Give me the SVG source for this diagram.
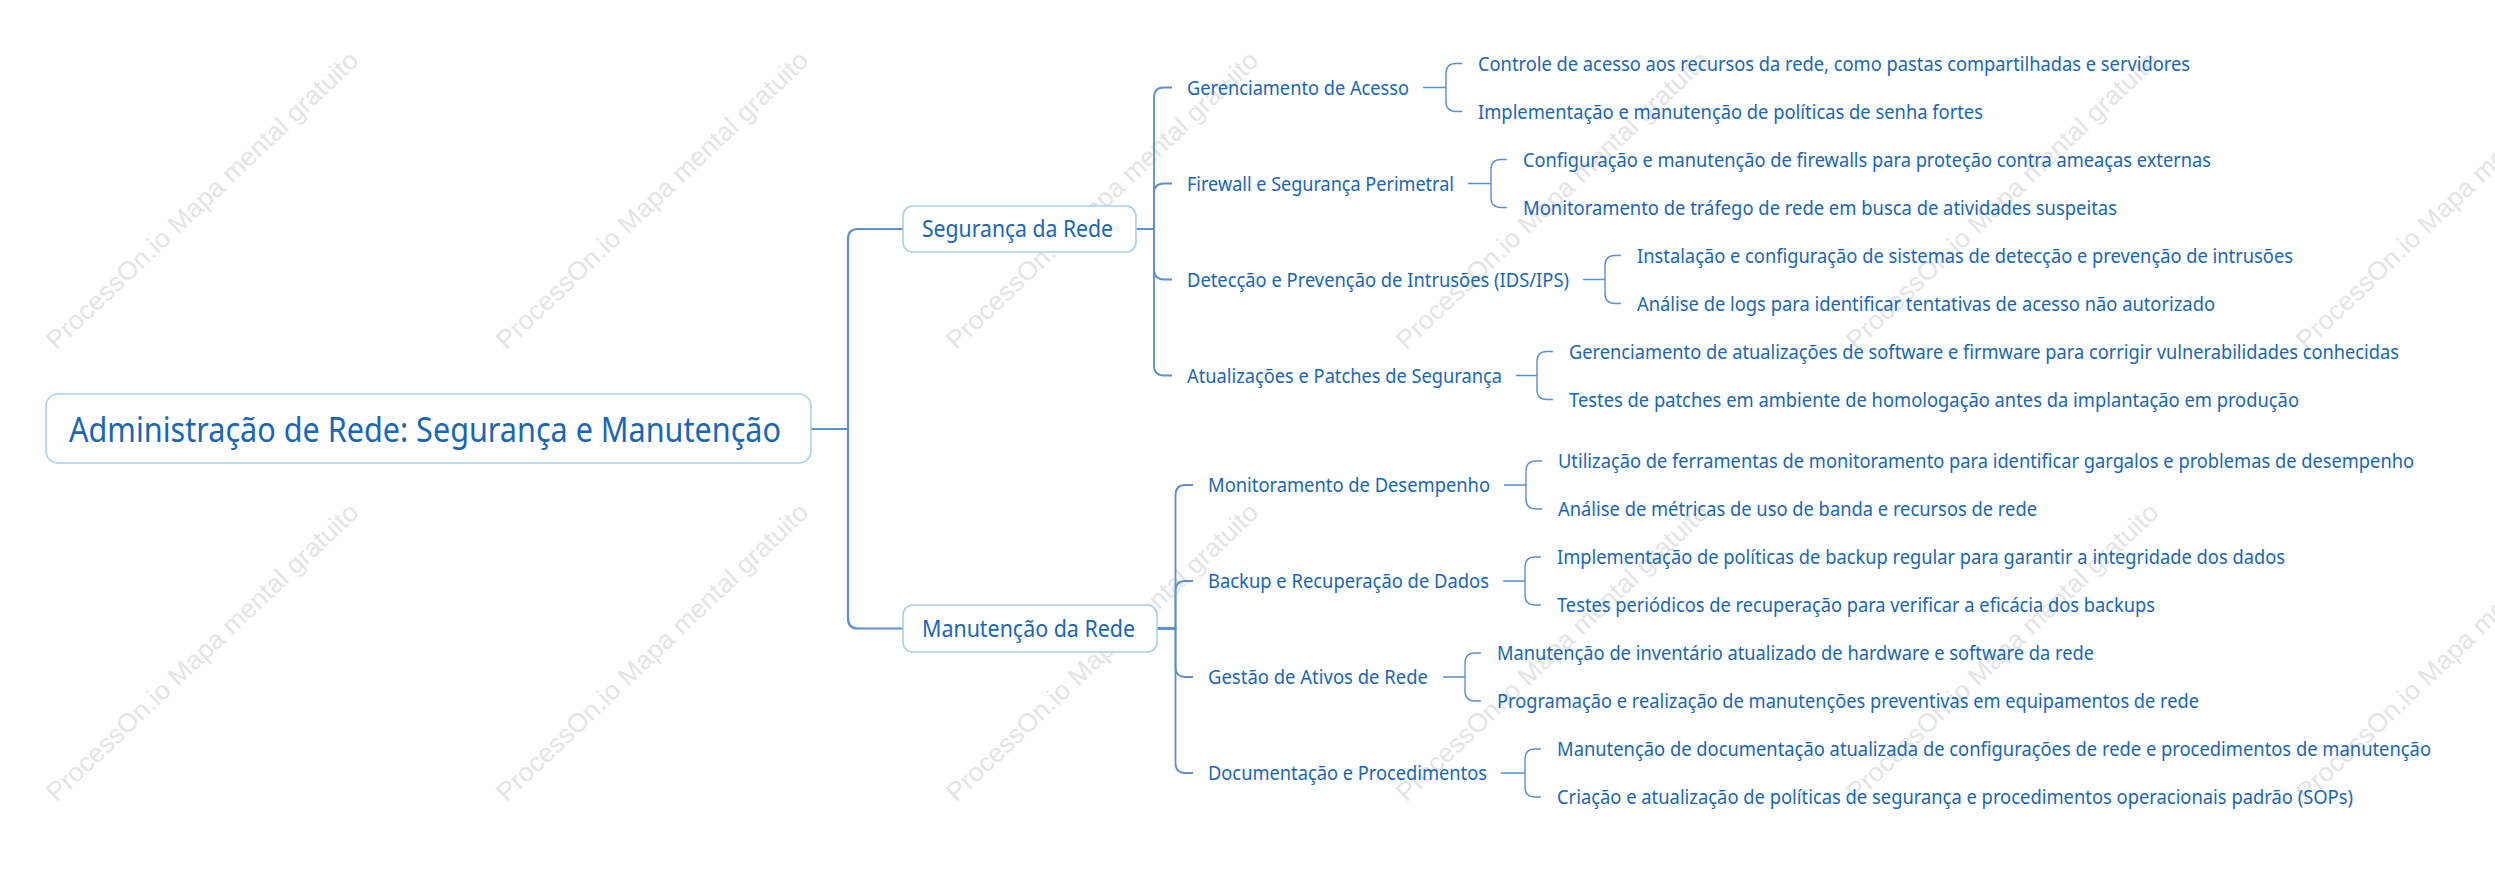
<svg xmlns="http://www.w3.org/2000/svg" width="2495" height="873" viewBox="0 0 2495 873">
<style>
.wm{font-family:"Liberation Sans",Arial,sans-serif;font-size:26px;fill:#e4e4e4;text-anchor:middle}
.t{font-family:"Noto Sans","Liberation Sans",sans-serif;fill:#1766b8}
.t0{font-size:34px}
.t1{font-size:23px}
.t2{font-size:20px}
.box{fill:#ffffff;stroke:#a6d0ec;stroke-width:1.6}
.c0{fill:none;stroke:#5a90d2;stroke-width:2.2}
.c1{fill:none;stroke:#5a90d2;stroke-width:1.8}
.c2{fill:none;stroke:#5a90d2;stroke-width:1.4}
</style>
<rect width="2495" height="873" fill="#ffffff"/>
<g id="watermarks">
<text class="wm" transform="translate(202,200) rotate(-43.5)" textLength="419" lengthAdjust="spacingAndGlyphs" dy="9">ProcessOn.io Mapa mental gratuito</text>
<text class="wm" transform="translate(652,200) rotate(-43.5)" textLength="419" lengthAdjust="spacingAndGlyphs" dy="9">ProcessOn.io Mapa mental gratuito</text>
<text class="wm" transform="translate(1102,200) rotate(-43.5)" textLength="419" lengthAdjust="spacingAndGlyphs" dy="9">ProcessOn.io Mapa mental gratuito</text>
<text class="wm" transform="translate(1552,200) rotate(-43.5)" textLength="419" lengthAdjust="spacingAndGlyphs" dy="9">ProcessOn.io Mapa mental gratuito</text>
<text class="wm" transform="translate(2002,200) rotate(-43.5)" textLength="419" lengthAdjust="spacingAndGlyphs" dy="9">ProcessOn.io Mapa mental gratuito</text>
<text class="wm" transform="translate(2452,200) rotate(-43.5)" textLength="419" lengthAdjust="spacingAndGlyphs" dy="9">ProcessOn.io Mapa mental gratuito</text>
<text class="wm" transform="translate(202,652) rotate(-43.5)" textLength="419" lengthAdjust="spacingAndGlyphs" dy="9">ProcessOn.io Mapa mental gratuito</text>
<text class="wm" transform="translate(652,652) rotate(-43.5)" textLength="419" lengthAdjust="spacingAndGlyphs" dy="9">ProcessOn.io Mapa mental gratuito</text>
<text class="wm" transform="translate(1102,652) rotate(-43.5)" textLength="419" lengthAdjust="spacingAndGlyphs" dy="9">ProcessOn.io Mapa mental gratuito</text>
<text class="wm" transform="translate(1552,652) rotate(-43.5)" textLength="419" lengthAdjust="spacingAndGlyphs" dy="9">ProcessOn.io Mapa mental gratuito</text>
<text class="wm" transform="translate(2002,652) rotate(-43.5)" textLength="419" lengthAdjust="spacingAndGlyphs" dy="9">ProcessOn.io Mapa mental gratuito</text>
<text class="wm" transform="translate(2452,652) rotate(-43.5)" textLength="419" lengthAdjust="spacingAndGlyphs" dy="9">ProcessOn.io Mapa mental gratuito</text>
</g>
<g id="connectors">
<path class="c0" d="M811 429 H848 V239 Q848 229 858 229 H903"/>
<path class="c0" d="M811 429 H848 V618.5 Q848 628.5 858 628.5 H903"/>
<path class="c1" d="M1136 229 H1154 V97.5 Q1154 87.5 1164 87.5 H1172"/>
<path class="c1" d="M1136 229 H1154 V193.5 Q1154 183.5 1164 183.5 H1172"/>
<path class="c1" d="M1136 229 H1154 V269.5 Q1154 279.5 1164 279.5 H1172"/>
<path class="c1" d="M1136 229 H1154 V365.5 Q1154 375.5 1164 375.5 H1172"/>
<path class="c1" d="M1157 628.5 H1175.5 V495 Q1175.5 485 1185.5 485 H1193"/>
<path class="c1" d="M1157 628.5 H1175.5 V591 Q1175.5 581 1185.5 581 H1193"/>
<path class="c1" d="M1157 628.5 H1175.5 V667 Q1175.5 677 1185.5 677 H1193"/>
<path class="c1" d="M1157 628.5 H1175.5 V763 Q1175.5 773 1185.5 773 H1193"/>
<path class="c2" d="M1423 87.5 H1446 M1446 87.5 V73.5 Q1446 63.5 1456 63.5 H1462 M1446 87.5 V101.5 Q1446 111.5 1456 111.5 H1462"/>
<path class="c2" d="M1468 183.5 H1491 M1491 183.5 V169.5 Q1491 159.5 1501 159.5 H1507 M1491 183.5 V197.5 Q1491 207.5 1501 207.5 H1507"/>
<path class="c2" d="M1583 279.5 H1605 M1605 279.5 V265.5 Q1605 255.5 1615 255.5 H1621 M1605 279.5 V293.5 Q1605 303.5 1615 303.5 H1621"/>
<path class="c2" d="M1516 375.5 H1537 M1537 375.5 V361.5 Q1537 351.5 1547 351.5 H1553 M1537 375.5 V389.5 Q1537 399.5 1547 399.5 H1553"/>
<path class="c2" d="M1504 485 H1526 M1526 485 V471 Q1526 461 1536 461 H1542 M1526 485 V499 Q1526 509 1536 509 H1542"/>
<path class="c2" d="M1503 581 H1525 M1525 581 V567 Q1525 557 1535 557 H1541 M1525 581 V595 Q1525 605 1535 605 H1541"/>
<path class="c2" d="M1443 677 H1465 M1465 677 V663 Q1465 653 1475 653 H1481 M1465 677 V691 Q1465 701 1475 701 H1481"/>
<path class="c2" d="M1501 773 H1525 M1525 773 V759 Q1525 749 1535 749 H1541 M1525 773 V787 Q1525 797 1535 797 H1541"/>
</g>
<g id="root">
<rect class="box" x="46" y="394" width="765" height="69" rx="12"/>
<text class="t t0" x="69" y="441.5" textLength="712" lengthAdjust="spacingAndGlyphs">Administração de Rede: Segurança e Manutenção</text>
</g>
<g id="seguranca">
<rect class="box" x="903" y="206" width="233" height="46" rx="10"/>
<text class="t t1" x="922" y="236.5" textLength="191" lengthAdjust="spacingAndGlyphs">Segurança da Rede</text>
</g>
<g id="manutencao">
<rect class="box" x="903" y="605" width="254" height="47" rx="10"/>
<text class="t t1" x="922" y="636.5" textLength="213" lengthAdjust="spacingAndGlyphs">Manutenção da Rede</text>
</g>
<g id="gerenciamento">
<text class="t t2" x="1187" y="94.5" textLength="222" lengthAdjust="spacingAndGlyphs">Gerenciamento de Acesso</text>
</g>
<g id="ger-1"><text class="t t2" x="1478" y="70.5" textLength="712" lengthAdjust="spacingAndGlyphs">Controle de acesso aos recursos da rede, como pastas compartilhadas e servidores</text></g>
<g id="ger-2"><text class="t t2" x="1478" y="118.5" textLength="505" lengthAdjust="spacingAndGlyphs">Implementação e manutenção de políticas de senha fortes</text></g>
<g id="firewall">
<text class="t t2" x="1187" y="190.5" textLength="267" lengthAdjust="spacingAndGlyphs">Firewall e Segurança Perimetral</text>
</g>
<g id="fire-1"><text class="t t2" x="1523" y="166.5" textLength="688" lengthAdjust="spacingAndGlyphs">Configuração e manutenção de firewalls para proteção contra ameaças externas</text></g>
<g id="fire-2"><text class="t t2" x="1523" y="214.5" textLength="594" lengthAdjust="spacingAndGlyphs">Monitoramento de tráfego de rede em busca de atividades suspeitas</text></g>
<g id="deteccao">
<text class="t t2" x="1187" y="286.5" textLength="382" lengthAdjust="spacingAndGlyphs">Detecção e Prevenção de Intrusões (IDS/IPS)</text>
</g>
<g id="det-1"><text class="t t2" x="1637" y="262.5" textLength="656" lengthAdjust="spacingAndGlyphs">Instalação e configuração de sistemas de detecção e prevenção de intrusões</text></g>
<g id="det-2"><text class="t t2" x="1637" y="310.5" textLength="578" lengthAdjust="spacingAndGlyphs">Análise de logs para identificar tentativas de acesso não autorizado</text></g>
<g id="atualizacoes">
<text class="t t2" x="1187" y="382.5" textLength="315" lengthAdjust="spacingAndGlyphs">Atualizações e Patches de Segurança</text>
</g>
<g id="atu-1"><text class="t t2" x="1569" y="358.5" textLength="830" lengthAdjust="spacingAndGlyphs">Gerenciamento de atualizações de software e firmware para corrigir vulnerabilidades conhecidas</text></g>
<g id="atu-2"><text class="t t2" x="1569" y="406.5" textLength="730" lengthAdjust="spacingAndGlyphs">Testes de patches em ambiente de homologação antes da implantação em produção</text></g>
<g id="monitoramento">
<text class="t t2" x="1208" y="492" textLength="282" lengthAdjust="spacingAndGlyphs">Monitoramento de Desempenho</text>
</g>
<g id="mon-1"><text class="t t2" x="1558" y="468" textLength="856" lengthAdjust="spacingAndGlyphs">Utilização de ferramentas de monitoramento para identificar gargalos e problemas de desempenho</text></g>
<g id="mon-2"><text class="t t2" x="1558" y="516" textLength="479" lengthAdjust="spacingAndGlyphs">Análise de métricas de uso de banda e recursos de rede</text></g>
<g id="backup">
<text class="t t2" x="1208" y="588" textLength="281" lengthAdjust="spacingAndGlyphs">Backup e Recuperação de Dados</text>
</g>
<g id="bak-1"><text class="t t2" x="1557" y="564" textLength="728" lengthAdjust="spacingAndGlyphs">Implementação de políticas de backup regular para garantir a integridade dos dados</text></g>
<g id="bak-2"><text class="t t2" x="1557" y="612" textLength="598" lengthAdjust="spacingAndGlyphs">Testes periódicos de recuperação para verificar a eficácia dos backups</text></g>
<g id="gestao">
<text class="t t2" x="1208" y="684" textLength="220" lengthAdjust="spacingAndGlyphs">Gestão de Ativos de Rede</text>
</g>
<g id="ges-1"><text class="t t2" x="1497" y="660" textLength="597" lengthAdjust="spacingAndGlyphs">Manutenção de inventário atualizado de hardware e software da rede</text></g>
<g id="ges-2"><text class="t t2" x="1497" y="708" textLength="702" lengthAdjust="spacingAndGlyphs">Programação e realização de manutenções preventivas em equipamentos de rede</text></g>
<g id="documentacao">
<text class="t t2" x="1208" y="780" textLength="279" lengthAdjust="spacingAndGlyphs">Documentação e Procedimentos</text>
</g>
<g id="doc-1"><text class="t t2" x="1557" y="756" textLength="874" lengthAdjust="spacingAndGlyphs">Manutenção de documentação atualizada de configurações de rede e procedimentos de manutenção</text></g>
<g id="doc-2"><text class="t t2" x="1557" y="804" textLength="796" lengthAdjust="spacingAndGlyphs">Criação e atualização de políticas de segurança e procedimentos operacionais padrão (SOPs)</text></g>
</svg>
